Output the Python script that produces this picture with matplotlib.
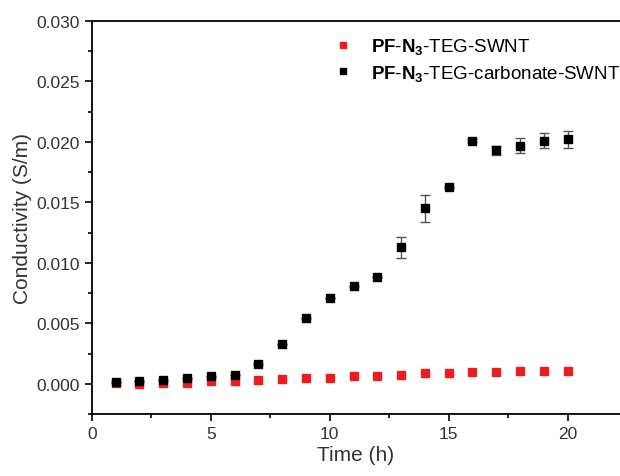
import matplotlib
matplotlib.use('Agg')
import matplotlib.pyplot as plt
from matplotlib.ticker import MultipleLocator

plt.rcParams['font.family'] = ['Liberation Sans', 'DejaVu Sans']
plt.rcParams['mathtext.fontset'] = 'custom'
plt.rcParams['mathtext.rm'] = 'Liberation Sans'
plt.rcParams['mathtext.bf'] = 'Liberation Sans:bold'

# time in hours
hours = list(range(1, 21))

# PF-N3-TEG-SWNT
teg = [0.00005, 0.00002, 0.00005, 0.0001, 0.0002, 0.0002, 0.0003, 0.0004, 0.00045, 0.0005,
       0.0006, 0.00068, 0.00075, 0.00085, 0.0009, 0.00095, 0.001, 0.00105, 0.00105, 0.00105]

# PF-N3-TEG-carbonate-SWNT
carb = [0.00015, 0.00025, 0.0003, 0.0005, 0.0006, 0.0007, 0.0016, 0.0033, 0.0054, 0.0071,
        0.0081, 0.0088, 0.0113, 0.0145, 0.0163, 0.0201, 0.0193, 0.0197, 0.0201, 0.0202]
carb_err = [0, 0, 0, 0, 0, 0, 0, 0, 0, 0,
            0, 0, 0.00087, 0.0011, 0, 0.0001, 0.0004, 0.00065, 0.0006, 0.00073]

labels = [r'$\mathbf{PF}$-$\mathbf{N_3}$-TEG-SWNT',
          r'$\mathbf{PF}$-$\mathbf{N_3}$-TEG-carbonate-SWNT']

fig = plt.figure(figsize=(6.2, 4.77), dpi=100)
ax = fig.add_axes([0.148, 0.130, 0.852, 0.824])

h1 = ax.errorbar(hours, teg, fmt='s', color='#ee1c1c', markersize=5.8, linestyle='None')
h2 = ax.errorbar(hours, carb, yerr=carb_err, fmt='s', color='black', markersize=5.8,
                 ecolor='#555555', elinewidth=1, capsize=3.5, capthick=1, linestyle='None')

ax.set_xlim(0, 22.2)
ax.set_ylim(-0.0025, 0.030)
ax.xaxis.set_major_locator(MultipleLocator(5))
ax.xaxis.set_minor_locator(MultipleLocator(2.5))
ax.yaxis.set_major_locator(MultipleLocator(0.005))
ax.yaxis.set_minor_locator(MultipleLocator(0.0025))
ax.yaxis.set_major_formatter(matplotlib.ticker.FormatStrFormatter('%.3f'))
ax.tick_params(which='major', direction='out', length=5, width=1.2, labelsize=12.5,
               colors='black', labelcolor='#333333')
ax.tick_params(which='minor', direction='out', length=3, width=1.2)
ax.spines['right'].set_visible(False)
for s in ['left', 'bottom', 'top']:
    ax.spines[s].set_linewidth(1.3)

ax.set_xlabel('Time (h)', fontsize=15, color='#333333', labelpad=3)
ax.set_ylabel('Conductivity (S/m)', fontsize=15, color='#333333', labelpad=3)

ax.legend(handles=[h1[0], h2[0]], labels=labels, loc='upper left',
          bbox_to_anchor=(0.422, 1.004), frameon=False, fontsize=13.5,
          handletextpad=0.9, labelspacing=0.35, handlelength=1.2, markerscale=0.85)

fig.savefig('out.png', dpi=100)
